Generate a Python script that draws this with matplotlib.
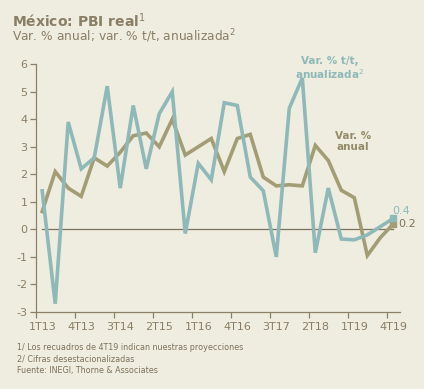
import matplotlib
matplotlib.use("Agg")
import matplotlib.pyplot as plt
import numpy as np

quarters = ["1T13","2T13","3T13","4T13","1T14","2T14","3T14","4T14",
            "1T15","2T15","3T15","4T15","1T16","2T16","3T16","4T16",
            "1T17","2T17","3T17","4T17","1T18","2T18","3T18","4T18",
            "1T19","2T19","3T19","4T19"]
qoq_annualized = [1.4, -2.7, 3.9, 2.2, 2.6, 5.2, 1.5, 4.5, 2.2, 4.2, 5.0, -0.15,
                  2.4, 1.8, 4.6, 4.5, 1.9, 1.4, -1.0, 4.4, 5.5, -0.85, 1.5, -0.35,
                  -0.38, -0.2, 0.1, 0.4]
yoy = [0.65, 2.1, 1.5, 1.2, 2.6, 2.3, 2.8, 3.4, 3.5, 3.0, 4.0, 2.7,
       3.0, 3.3, 2.1, 3.3, 3.45, 1.9, 1.58, 1.62, 1.58, 3.05, 2.5, 1.42,
       1.15, -0.95, -0.3, 0.2]
tick_labels = ["1T13","4T13","3T14","2T15","1T16","4T16","3T17","2T18","1T19","4T19"]

bg = "#efece0"
blue = "#8fb9b9"
olive = "#a39d76"
txt = "#8a7f66"
axc = "#8b8068"

plt.rcParams['font.family'] = ['DejaVu Sans']
fig = plt.figure(figsize=(4.24, 3.89), dpi=100, facecolor=bg)
ax = fig.add_axes([0.0842, 0.198, 0.8588, 0.637], facecolor=bg)

x = np.arange(len(quarters))
ax.plot([0, len(quarters)-1], [0, 0], color="#7d735c", lw=0.9, zorder=1)
ax.plot(x, yoy, color=olive, lw=2.6, zorder=2, solid_joinstyle='miter')
ax.plot(x, qoq_annualized, color=blue, lw=2.6, zorder=3, solid_joinstyle='miter')
ax.plot(x[-1], yoy[-1], marker='s', ms=4, color=olive, zorder=4)
ax.plot(x[-1], qoq_annualized[-1], marker='s', ms=4, color=blue, zorder=5)

ax.set_xlim(-0.5, 27.5)
ax.set_ylim(-3, 6)
ax.set_yticks(range(-3, 7))
ax.set_yticklabels([str(v) for v in range(-3, 7)])
label_pos = [quarters.index(t) for t in tick_labels]
ax.set_xticks([p - 0.5 for p in label_pos])
ax.set_xticklabels([])
ax.set_xticks(label_pos, minor=True)
ax.set_xticklabels(tick_labels, minor=True)
ax.tick_params(axis='x', which='minor', length=0, pad=7, labelsize=8, labelcolor=txt)
ax.tick_params(axis='x', which='major', length=4, color=axc, width=0.9)
ax.tick_params(axis='y', length=4, color=axc, width=0.9, labelsize=8, labelcolor=txt, pad=2)

for s in ['top', 'right']:
    ax.spines[s].set_visible(False)
for s in ['left', 'bottom']:
    ax.spines[s].set_color(axc)
    ax.spines[s].set_linewidth(0.9)

ax.text(22.1, 5.85, "Var. % t/t,\nanualizada$^2$", color=blue, fontsize=7.5,
        fontweight='bold', ha='center', va='center', linespacing=1.1)
ax.text(23.9, 3.2, "Var. %\nanual", color="#948c68", fontsize=7.5,
        fontweight='bold', ha='center', va='center', linespacing=1.1)
ax.text(26.9, 0.65, "0.4", color=blue, fontsize=8, ha='left', va='center')
ax.text(27.4, 0.2, "0.2", color="#7d735c", fontsize=8, ha='left', va='center')

fig.text(0.028, 0.948, "México: PBI real$^1$", color=txt, fontsize=10, fontweight='bold', va='center')
fig.text(0.028, 0.906, "Var. % anual; var. % t/t, anualizada$^2$", color=txt, fontsize=8.8, va='center')

foot = ["1/ Los recuadros de 4T19 indican nuestras proyecciones",
        "2/ Cifras desestacionalizadas",
        "Fuente: INEGI, Thorne & Associates"]
for k, t in enumerate(foot):
    fig.text(0.04, 1 - (348 + 11.3*k)/389, t, color="#7d735c", fontsize=5.8, va='center')

fig.savefig("out.png", dpi=100, facecolor=bg)
